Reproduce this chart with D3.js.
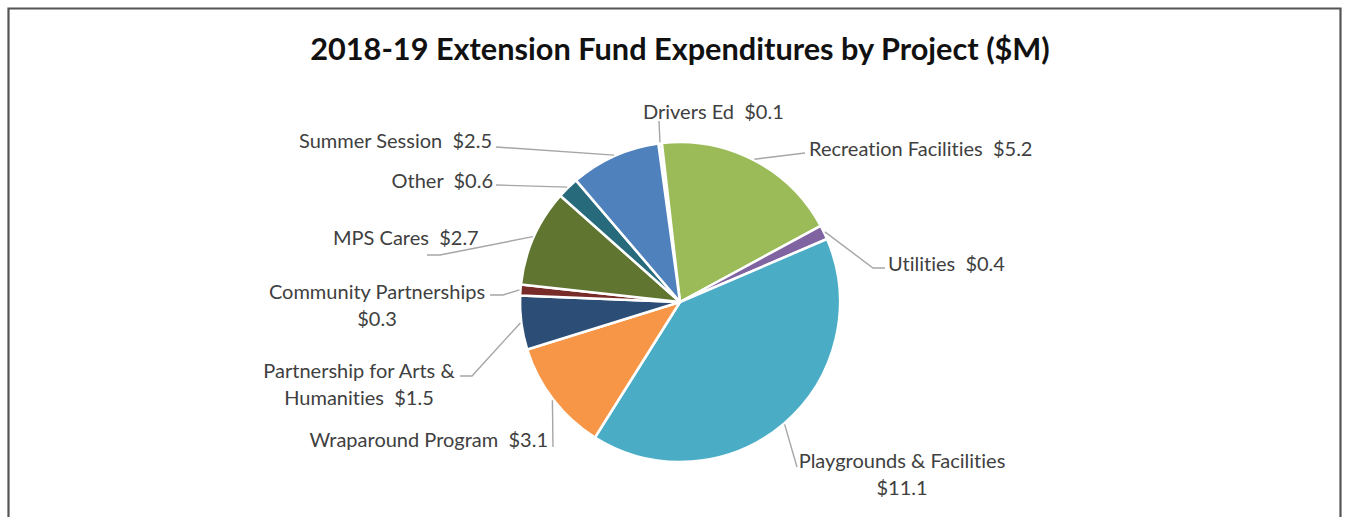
<!DOCTYPE html>
<html>
<head>
<meta charset="utf-8">
<script src="https://cdn.jsdelivr.net/npm/d3@7"></script>
<style>
  html, body { margin: 0; padding: 0; background: #fff; }
  svg { display: block; }
  text { font-variant-ligatures: none; font-feature-settings: "liga" 0, "clig" 0; }
</style>
</head>
<body>
<svg id="chart" width="1351" height="517"></svg>
<script>
// Expenditure categories in clockwise order, starting just left of 12 o'clock
const projects = [
  "Drivers Ed",
  "Recreation Facilities",
  "Utilities",
  "Playgrounds & Facilities",
  "Wraparound Program",
  "Partnership for Arts & Humanities",
  "Community Partnerships",
  "MPS Cares",
  "Other",
  "Summer Session"
];
// Spending in $M
const amounts = [0.1, 5.2, 0.4, 11.1, 3.1, 1.5, 0.3, 2.7, 0.6, 2.5];
const sliceColors = [
  "#f4f4f4", "#9BBB59", "#8064A2", "#4BACC6", "#F79646",
  "#2C4D75", "#772C2A", "#5F7530", "#276A7C", "#4F81BD"
];
const title = "2018-19 Extension Fund Expenditures by Project ($M)";

// Label placement: anchor, text position, leader elbow points and line wrapping
const labelLayout = [
  { anchor: "start",  x: 643, y: 119, wrap: "none", leader: [[659, 121]] },
  { anchor: "start",  x: 809, y: 156, wrap: "none", leader: [[805, 153]] },
  { anchor: "start",  x: 888, y: 271, wrap: "none", leader: [[873, 268], [885, 268]] },
  { anchor: "middle", x: 902, y: 468, wrap: "value", leader: [[797, 467]] },
  { anchor: "end",    x: 548, y: 447, wrap: "none", leader: [[553, 447]] },
  { anchor: "middle", x: 359, y: 378, wrap: "words3", leader: [[472, 376], [460, 376]] },
  { anchor: "middle", x: 377, y: 299, wrap: "value", leader: [[503, 295], [490, 295]] },
  { anchor: "start",  x: 333, y: 245, wrap: "none", leader: [[440, 255], [427, 255]] },
  { anchor: "end",    x: 493, y: 188, wrap: "none", leader: [[496, 185]] },
  { anchor: "end",    x: 492, y: 148, wrap: "none", leader: [[496, 147]] }
];

const W = 1351, H = 517;
const cx = 680, cy = 302, R = 160;
const lineGap = 27;

const svg = d3.select("#chart");

// Chart frame
svg.append("path")
  .attr("d", `M8.5,${H + 5} V8.5 H1340.5 V${H + 5}`)
  .attr("fill", "none")
  .attr("stroke", "#555")
  .attr("stroke-width", 2.2);

// Title
const titleText = svg.append("text")
  .attr("x", 680)
  .attr("y", 60)
  .attr("text-anchor", "middle")
  .attr("font-family", "Lato, 'Open Sans', sans-serif")
  .attr("font-weight", "bold")
  .attr("font-size", 28)
  .attr("fill", "#111")
  .text(title);
{
  const w = titleText.node().getComputedTextLength();
  titleText.attr("font-size", 28 * 740 / w);
}

const data = projects.map((name, i) => ({ name, value: amounts[i], color: sliceColors[i], layout: labelLayout[i] }));

const startAngle = -7.8 * Math.PI / 180;
const pie = d3.pie()
  .sort(null)
  .value(d => d.value)
  .startAngle(startAngle)
  .endAngle(startAngle + 2 * Math.PI);

const arc = d3.arc().innerRadius(0).outerRadius(R);
const arcs = pie(data);

const g = svg.append("g").attr("transform", `translate(${cx},${cy})`);

g.selectAll("path.slice")
  .data(arcs)
  .join("path")
  .attr("class", "slice")
  .attr("d", arc)
  .attr("fill", d => d.data.color)
  .attr("stroke", "#fff")
  .attr("stroke-width", 2.5)
  .attr("stroke-linejoin", "round");

// Leader lines from each slice's outer edge to its label
const edgePoint = d => {
  const a = (d.startAngle + d.endAngle) / 2;
  return [cx + (R + 1) * Math.sin(a), cy - (R + 1) * Math.cos(a)];
};

svg.selectAll("polyline.leader")
  .data(arcs)
  .join("polyline")
  .attr("class", "leader")
  .attr("points", d => [edgePoint(d), ...d.data.layout.leader].map(p => p.join(",")).join(" "))
  .attr("fill", "none")
  .attr("stroke", "#a6a6a6")
  .attr("stroke-width", 1.4);

// Labels
const fmt = v => "$" + d3.format(".1f")(v);
const labelLines = d => {
  const name = d.name, val = fmt(d.value);
  const wrap = d.layout.wrap;
  if (wrap === "value") return [name, val];
  if (wrap === "words3") {
    const words = name.split(" ");
    return [words.slice(0, 4).join(" "), words.slice(4).join(" ") + "  " + val];
  }
  return [name + "  " + val];
};

const labels = svg.selectAll("text.label")
  .data(data)
  .join("text")
  .attr("class", "label")
  .attr("x", d => d.layout.x)
  .attr("y", d => d.layout.y)
  .attr("text-anchor", d => d.layout.anchor)
  .attr("font-family", "Lato, 'Open Sans', sans-serif")
  .attr("font-size", 20)
  .attr("fill", "#404040")
  .style("white-space", "pre");

labels.each(function(d) {
  const t = d3.select(this);
  labelLines(d).forEach((line, i) => {
    t.append("tspan")
      .attr("x", d.layout.x)
      .attr("dy", i === 0 ? 0 : lineGap)
      .text(line);
  });
});
</script>
</body>
</html>
